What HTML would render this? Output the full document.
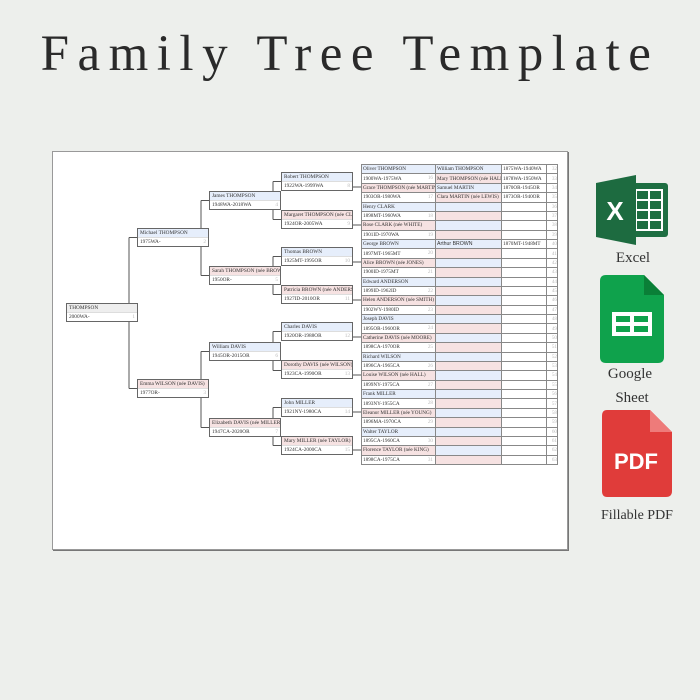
<!DOCTYPE html>
<html><head><meta charset="utf-8"><style>
*{margin:0;padding:0;box-sizing:border-box}
body{width:700px;height:700px;background:#edefec;position:relative;overflow:hidden;font-family:"Liberation Serif",serif}
.title{position:absolute;left:30px;top:29px;width:640px;text-align:center;font-size:51px;line-height:50px;color:#2a2a2a;letter-spacing:8.5px;white-space:nowrap;font-weight:normal}
.sheet{position:absolute;left:52px;top:151px;width:516px;height:399px;background:#fff;border:1px solid #999;box-shadow:1px 1px 0 #777}
.b{position:absolute;width:72px;height:19px;border:1px solid #666;background:#fff;font-size:5.3px;line-height:9px;color:#333;overflow:hidden;white-space:nowrap}
.b .h{height:9px;padding-left:2px;border-bottom:0.5px solid #ddd}
.b .d{height:9px;padding-left:2px;position:relative}
.b .d span{position:absolute;right:2px;top:0;color:#bbb}
.m{background:#e6eefb}.f{background:#f6e2e2}.g{background:#eee}
table{position:absolute;left:361px;top:164px;width:196px;border-collapse:collapse;font-size:5.2px;color:#333;table-layout:fixed}
td{border:0.6px solid #888;height:9.375px;padding:0 1px;white-space:nowrap;overflow:hidden;line-height:8px;position:relative}
td.n{color:#bbb;text-align:right;padding:0}
td .r{position:absolute;right:2px;top:0;color:#bbb}
.lab{position:absolute;font-size:15px;color:#333;font-family:"Liberation Serif",serif;text-align:center;width:100px}
</style></head><body>
<div class="title">Family Tree Template</div>
<div class="sheet"></div>
<svg style="position:absolute;left:0;top:0" width="700" height="700">
<g stroke="#555" stroke-width="1" fill="none">
<path d="M129 237.5V388.5M129 237.5H137M129 388.5H137"/>
<path d="M201 200.5V275.5M201 200.5H209M201 275.5H209"/>
<path d="M201 351.5V427.5M201 351.5H209M201 427.5H209"/>
<path d="M273 181.5V219.5M273 181.5H281M273 219.5H281"/>
<path d="M273 256.5V294.5M273 256.5H281M273 294.5H281"/>
<path d="M273 331.5V370.5M273 331.5H281M273 370.5H281"/>
<path d="M273 407.5V445.5M273 407.5H281M273 445.5H281"/>
<path d="M353 187H361M353 225H361M353 262H361M353 300H361M353 337H361M353 375H361M353 412H361M353 450H361"/>
</g></svg>

<div class="b" style="left:66px;top:303px"><div class="h g">THOMPSON</div><div class="d">2000WA-<span>1</span></div></div>
<div class="b" style="left:137px;top:228px"><div class="h m">Michael THOMPSON</div><div class="d">1975WA-<span>2</span></div></div>
<div class="b" style="left:137px;top:379px"><div class="h f">Emma WILSON (née DAVIS)</div><div class="d">1977OR-<span>3</span></div></div>
<div class="b" style="left:209px;top:191px"><div class="h m">James THOMPSON</div><div class="d">1948WA-2018WA<span>4</span></div></div>
<div class="b" style="left:209px;top:266px"><div class="h f">Sarah THOMPSON (née BROWN)</div><div class="d">1950OR-<span>5</span></div></div>
<div class="b" style="left:209px;top:342px"><div class="h m">William DAVIS</div><div class="d">1945OR-2015OR<span>6</span></div></div>
<div class="b" style="left:209px;top:418px"><div class="h f">Elizabeth DAVIS (née MILLER)</div><div class="d">1947CA-2020OR<span>7</span></div></div>
<div class="b" style="left:281px;top:172px"><div class="h m">Robert THOMPSON</div><div class="d">1922WA-1999WA<span>8</span></div></div>
<div class="b" style="left:281px;top:210px"><div class="h f">Margaret THOMPSON (née CLARK)</div><div class="d">1924OR-2005WA<span>9</span></div></div>
<div class="b" style="left:281px;top:247px"><div class="h m">Thomas BROWN</div><div class="d">1925MT-1995OR<span>10</span></div></div>
<div class="b" style="left:281px;top:285px"><div class="h f">Patricia BROWN (née ANDERSON)</div><div class="d">1927ID-2010OR<span>11</span></div></div>
<div class="b" style="left:281px;top:322px"><div class="h m">Charles DAVIS</div><div class="d">1920OR-1988OR<span>12</span></div></div>
<div class="b" style="left:281px;top:360px"><div class="h f">Dorothy DAVIS (née WILSON)</div><div class="d">1923CA-1990OR<span>13</span></div></div>
<div class="b" style="left:281px;top:398px"><div class="h m">John MILLER</div><div class="d">1921NY-1980CA<span>14</span></div></div>
<div class="b" style="left:281px;top:436px"><div class="h f">Mary MILLER (née TAYLOR)</div><div class="d">1924CA-2000CA<span>15</span></div></div>

<table>
<colgroup><col style="width:74px"><col style="width:66px"><col style="width:45px"><col style="width:11px"></colgroup>
<tr><td class="m">Oliver THOMPSON</td><td class="m">William THOMPSON</td><td>1875WA-1940WA</td><td class="n">32</td></tr>
<tr><td>1900WA-1975WA<span class="r">16</span></td><td class="f">Mary THOMPSON (née HALL)</td><td>1878WA-1950WA</td><td class="n">33</td></tr>
<tr><td class="f">Grace THOMPSON (née MARTIN)</td><td class="m">Samuel MARTIN</td><td>1870OR-1945OR</td><td class="n">34</td></tr>
<tr><td>1903OR-1980WA<span class="r">17</span></td><td class="f">Clara MARTIN (née LEWIS)</td><td>1873OR-1940OR</td><td class="n">35</td></tr>
<tr><td class="m">Henry CLARK</td><td class="m"></td><td></td><td class="n">36</td></tr>
<tr><td>1898MT-1960WA<span class="r">18</span></td><td class="f"></td><td></td><td class="n">37</td></tr>
<tr><td class="f">Rose CLARK (née WHITE)</td><td class="m"></td><td></td><td class="n">38</td></tr>
<tr><td>1901ID-1970WA<span class="r">19</span></td><td class="f"></td><td></td><td class="n">39</td></tr>
<tr><td class="m">George BROWN</td><td class="m" style="font-family:'Liberation Sans',sans-serif">Arthur BROWN</td><td>1870MT-1948MT</td><td class="n">40</td></tr>
<tr><td>1897MT-1965MT<span class="r">20</span></td><td class="f"></td><td></td><td class="n">41</td></tr>
<tr><td class="f">Alice BROWN (née JONES)</td><td class="m"></td><td></td><td class="n">42</td></tr>
<tr><td>1900ID-1975MT<span class="r">21</span></td><td class="f"></td><td></td><td class="n">43</td></tr>
<tr><td class="m">Edward ANDERSON</td><td class="m"></td><td></td><td class="n">44</td></tr>
<tr><td>1899ID-1962ID<span class="r">22</span></td><td class="f"></td><td></td><td class="n">45</td></tr>
<tr><td class="f">Helen ANDERSON (née SMITH)</td><td class="m"></td><td></td><td class="n">46</td></tr>
<tr><td>1902WY-1980ID<span class="r">23</span></td><td class="f"></td><td></td><td class="n">47</td></tr>
<tr><td class="m">Joseph DAVIS</td><td class="m"></td><td></td><td class="n">48</td></tr>
<tr><td>1895OR-1960OR<span class="r">24</span></td><td class="f"></td><td></td><td class="n">49</td></tr>
<tr><td class="f">Catherine DAVIS (née MOORE)</td><td class="m"></td><td></td><td class="n">50</td></tr>
<tr><td>1898CA-1970OR<span class="r">25</span></td><td class="f"></td><td></td><td class="n">51</td></tr>
<tr><td class="m">Richard WILSON</td><td class="m"></td><td></td><td class="n">52</td></tr>
<tr><td>1896CA-1965CA<span class="r">26</span></td><td class="f"></td><td></td><td class="n">53</td></tr>
<tr><td class="f">Louise WILSON (née HALL)</td><td class="m"></td><td></td><td class="n">54</td></tr>
<tr><td>1899NY-1975CA<span class="r">27</span></td><td class="f"></td><td></td><td class="n">55</td></tr>
<tr><td class="m">Frank MILLER</td><td class="m"></td><td></td><td class="n">56</td></tr>
<tr><td>1893NY-1955CA<span class="r">28</span></td><td class="f"></td><td></td><td class="n">57</td></tr>
<tr><td class="f">Eleanor MILLER (née YOUNG)</td><td class="m"></td><td></td><td class="n">58</td></tr>
<tr><td>1896MA-1970CA<span class="r">29</span></td><td class="f"></td><td></td><td class="n">59</td></tr>
<tr><td class="m">Walter TAYLOR</td><td class="m"></td><td></td><td class="n">60</td></tr>
<tr><td>1895CA-1960CA<span class="r">30</span></td><td class="f"></td><td></td><td class="n">61</td></tr>
<tr><td class="f">Florence TAYLOR (née KING)</td><td class="m"></td><td></td><td class="n">62</td></tr>
<tr><td>1898CA-1975CA<span class="r">31</span></td><td class="f"></td><td></td><td class="n">63</td></tr>
</table>

<svg style="position:absolute;left:596px;top:175px" width="74" height="70" viewBox="0 0 74 70">
<rect x="26" y="8" width="46" height="54" rx="3" fill="#1e6e42"/>
<g stroke="#fff" stroke-width="2" fill="none"><rect x="40" y="15" width="26" height="40"/><path d="M40 25H66M40 35H66M40 45H66M53 15V55"/></g>
<path d="M0 8L40 0V70L0 62Z" fill="#1d6b40"/>
<text x="19" y="45" font-family="Liberation Sans,sans-serif" font-weight="bold" font-size="26" fill="#fff" text-anchor="middle">X</text>
</svg>
<div class="lab" style="left:583px;top:250px">Excel</div>
<svg style="position:absolute;left:600px;top:275px" width="64" height="88" viewBox="0 0 64 88">
<path d="M6 0H44L64 20V82Q64 88 58 88H6Q0 88 0 82V6Q0 0 6 0Z" fill="#0fa24c"/>
<path d="M44 0V20H64Z" fill="#0a7f37"/>
<rect x="12" y="37" width="40" height="24" fill="#fff"/>
<g fill="#0fa24c"><rect x="16" y="41" width="14" height="6"/><rect x="34" y="41" width="14" height="6"/><rect x="16" y="51" width="14" height="6"/><rect x="34" y="51" width="14" height="6"/></g>
</svg>
<div class="lab" style="left:580px;top:366px">Google</div>
<div class="lab" style="left:582px;top:390px">Sheet</div>
<svg style="position:absolute;left:602px;top:410px" width="70" height="87" viewBox="0 0 70 87">
<path d="M5 0H48L70 22V81Q70 87 64 87H5Q0 87 0 81V6Q0 0 5 0Z" fill="#e03c3a"/>
<path d="M48 0V22H70Z" fill="#ee7b7a"/>
<text x="34" y="59" font-family="Liberation Sans,sans-serif" font-weight="bold" font-size="22" fill="#fff" text-anchor="middle">PDF</text>
</svg>
<div class="lab" style="left:582px;top:508px;width:110px;font-size:14px">Fillable PDF</div>
</body></html>
